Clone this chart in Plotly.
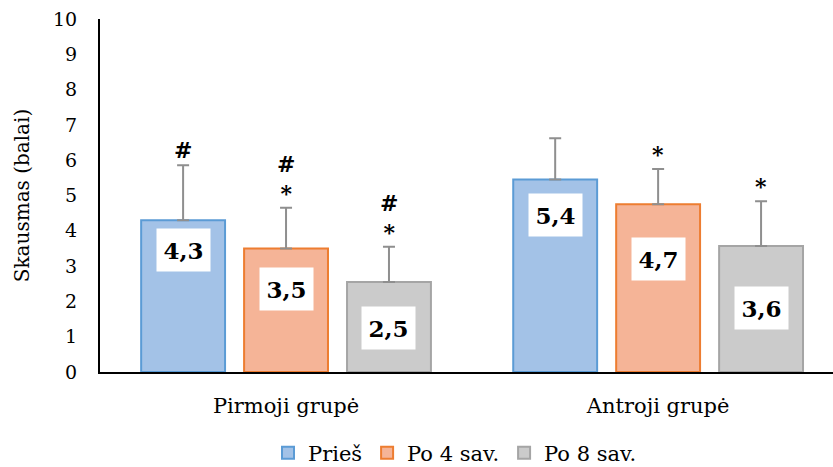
import plotly.graph_objects as go

categories = ["Pirmoji grupė", "Antroji grupė"]
series_names = ["Prieš", "Po 4 sav.", "Po 8 sav."]
values = [[4.3, 5.45], [3.5, 4.75], [2.55, 3.57]]
sd = [[1.56, 1.17], [1.15, 1.0], [1.0, 1.27]]
value_labels = [["4,3", "5,4"], ["3,5", "4,7"], ["2,5", "3,6"]]
markers = [["#", ""], ["#<br>*", "*"], ["#<br>*", "*"]]
yticks = list(range(0, 11))

fills = ["#a3c2e7", "#f5b497", "#cbcbcb"]
borders = ["#5b9bd5", "#ed7d31", "#a5a5a5"]
label_drop = [[0.85, 1.0], [1.15, 1.55], [1.3, 1.75]]

FONT = "DejaVu Serif"

fig = go.Figure()
for i, name in enumerate(series_names):
    fig.add_trace(go.Bar(
        name=name, x=categories, y=values[i],
        marker=dict(color=fills[i], line=dict(color=borders[i], width=2)),
        error_y=dict(type="data", array=sd[i], arrayminus=[0, 0], symmetric=False,
                     color="#8f8f8f", thickness=2, width=6),
        offsetgroup=str(i),
    ))

bargap = 0.17
bargroupgap = 0.185
slot = (1 - bargap) / 3
annotations = []
for i in range(3):
    for j, cat in enumerate(categories):
        xc = j - (1 - bargap) / 2 + slot * (i + 0.5)
        annotations.append(dict(
            x=xc, y=values[i][j] - label_drop[i][j], xref="x", yref="y",
            text="<b>" + value_labels[i][j] + "</b>", showarrow=False,
            font=dict(family=FONT, size=23, color="black"),
            bgcolor="white", width=53, height=42, borderpad=0,
        ))
        if markers[i][j]:
            annotations.append(dict(
                x=xc, y=values[i][j] + sd[i][j], xref="x", yref="y",
                text="<b>" + markers[i][j] + "</b>", showarrow=False,
                yanchor="bottom", yshift=0,
                font=dict(family=FONT, size=22, color="black"),
            ))

fig.update_layout(
    width=833, height=467,
    margin=dict(l=100, r=0, t=19, b=95, autoexpand=False),
    paper_bgcolor="white", plot_bgcolor="white",
    barmode="group", bargap=bargap, bargroupgap=bargroupgap,
    font=dict(family=FONT, color="black"),
    showlegend=True,
    legend=dict(orientation="h", x=(455 - 100) / 733, xanchor="center",
                y=14 / 467, yref="container", yanchor="middle",
                font=dict(family=FONT, size=21), itemwidth=30, tracegroupgap=0,
                entrywidth=0),
    annotations=annotations,
)
fig.update_xaxes(
    type="category", range=[-0.5, 1.47],
    showline=True, linecolor="black", linewidth=2,
    tickfont=dict(family=FONT, size=21), ticks="", ticklabelstandoff=14,
)
fig.update_yaxes(
    range=[0, 10], tickvals=yticks, showgrid=False, zeroline=False,
    showline=True, linecolor="black", linewidth=2,
    tickfont=dict(family=FONT, size=19), ticks="", ticklabelstandoff=17,
    title=dict(text="Skausmas (balai)", font=dict(family=FONT, size=20), standoff=18),
)
fig.write_html("out.html", config={"displayModeBar": False},
               post_script="document.body.style.margin='0';")
